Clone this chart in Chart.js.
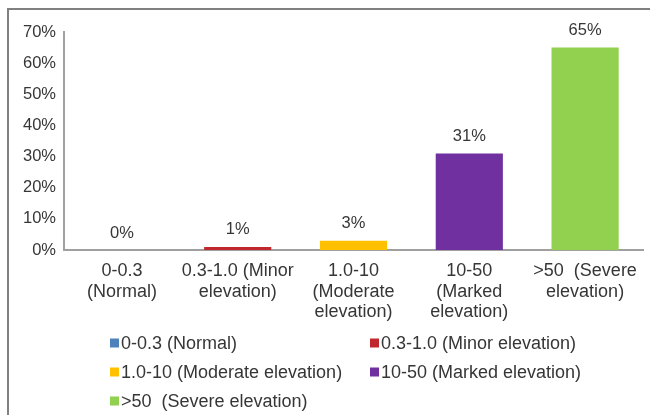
<!DOCTYPE html>
<html>
<head>
<meta charset="utf-8">
<script src="https://cdn.jsdelivr.net/npm/chart.js@4/dist/chart.umd.min.js"></script>
<style>
  html, body { margin: 0; padding: 0; background: #fff; }
  #wrap { position: relative; width: 650px; height: 415px; overflow: hidden; }
  #frame { position: absolute; left: 7px; top: 8px; width: 700px; height: 500px;
           border-top: 2px solid #808080; border-left: 2px solid #808080; }
  #c { position: absolute; left: 0; top: 0; }
</style>
</head>
<body>
<div id="wrap">
  <div id="frame"></div>
  <canvas id="c" width="650" height="415"></canvas>
</div>
<script>
// Troponin elevation groups (axis labels are split over lines)
const categories = [
  ["0-0.3", "(Normal)"],
  ["0.3-1.0 (Minor", "elevation)"],
  ["1.0-10", "(Moderate", "elevation)"],
  ["10-50", "(Marked", "elevation)"],
  [">50  (Severe", "elevation)"]
];
const seriesNames = [
  "0-0.3 (Normal)",
  "0.3-1.0 (Minor elevation)",
  "1.0-10 (Moderate elevation)",
  "10-50 (Marked elevation)",
  ">50  (Severe elevation)"
];
// Share of patients in each group, percent
const percents = [0, 1, 3, 31, 65];
const seriesColors = ["#4F81BD", "#C0282D", "#FFC000", "#7030A0", "#92D050"];

const FONT = "'Liberation Sans', Arial, Helvetica, sans-serif";
const TEXT = "#363636";

// One dataset per group so each gets its own legend entry
const datasets = seriesNames.map((name, i) => ({
  label: name,
  data: percents.map((v, j) => (j === i ? v : null)),
  backgroundColor: seriesColors[i],
  borderWidth: 0,
  barPercentage: 0.58,
  categoryPercentage: 1.0
}));

// Percent labels above each bar
const valueLabels = {
  id: 'valueLabels',
  afterDatasetsDraw(chart) {
    const ctx = chart.ctx;
    ctx.save();
    ctx.font = "16.5px " + FONT;
    ctx.fillStyle = TEXT;
    ctx.textAlign = 'center';
    ctx.textBaseline = 'middle';
    chart.data.datasets.forEach((ds, di) => {
      const meta = chart.getDatasetMeta(di);
      ds.data.forEach((v, i) => {
        if (v === null) return;
        const el = meta.data[i];
        ctx.fillText(v + '%', el.x, el.y - 17);
      });
    });
    ctx.restore();
  }
};

// Two-column legend under the axis labels
const gridLegend = {
  id: 'gridLegend',
  afterDraw(chart, args, opts) {
    const ctx = chart.ctx;
    ctx.save();
    ctx.font = "18px " + FONT;
    ctx.textBaseline = 'middle';
    ctx.textAlign = 'left';
    chart.data.datasets.forEach((ds, i) => {
      const col = i % 2, row = Math.floor(i / 2);
      const x = opts.cols[col], y = opts.top + row * opts.rowGap;
      ctx.fillStyle = ds.backgroundColor;
      ctx.fillRect(x, y - 4.5, 9, 9);
      ctx.fillStyle = TEXT;
      ctx.fillText(ds.label, x + 11, y + 1);
    });
    ctx.restore();
  }
};

new Chart(document.getElementById('c'), {
  type: 'bar',
  data: { labels: categories, datasets },
  plugins: [valueLabels, gridLegend],
  options: {
    responsive: false,
    animation: false,
    layout: { padding: { top: 32, right: 7, bottom: 0, left: 0 } },
    datasets: { bar: { grouped: false } },
    plugins: {
      legend: { display: false },
      tooltip: { enabled: false },
      gridLegend: { cols: [110, 370], top: 343, rowGap: 29 }
    },
    scales: {
      x: {
        grid: { display: false, drawTicks: false },
        border: { display: true, color: '#a0a0a0', width: 2 },
        ticks: {
          color: TEXT,
          font: { family: FONT, size: 18, lineHeight: 1.14 },
          padding: 11,
          maxRotation: 0,
          autoSkip: false
        },
        afterFit(scale) { scale.height = 165; }
      },
      y: {
        min: 0,
        max: 70,
        grid: { display: false, drawTicks: false },
        border: { display: true, color: '#a0a0a0', width: 2 },
        ticks: {
          stepSize: 10,
          color: TEXT,
          font: { family: FONT, size: 16.5 },
          padding: 8,
          callback: v => v + '%'
        },
        afterFit(scale) { scale.width = 64; }
      }
    }
  }
});
</script>
</body>
</html>
